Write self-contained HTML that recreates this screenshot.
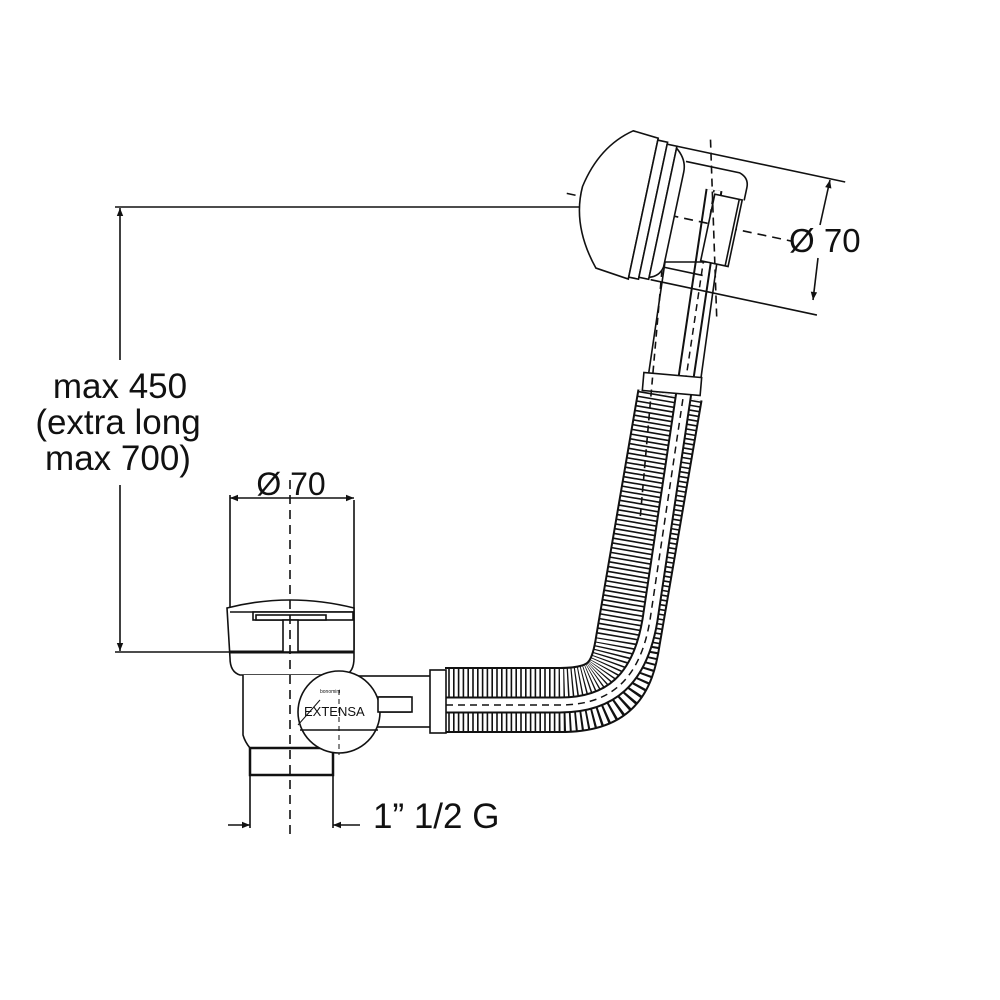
<!DOCTYPE html>
<html><head><meta charset="utf-8"><style>
html,body{margin:0;padding:0;background:#fff;}
svg{display:block;}
text{font-family:"Liberation Sans",sans-serif;fill:#111;}
</style></head><body>
<svg width="1000" height="1000" viewBox="0 0 1000 1000" xmlns="http://www.w3.org/2000/svg">
<defs>
<marker id="ar" viewBox="0 0 10 10" refX="10" refY="5" markerWidth="10" markerHeight="8" orient="auto-start-reverse" markerUnits="userSpaceOnUse"><path d="M0,1 L10,5 L0,9 Z" fill="#111"/></marker>
</defs>
<g fill="none" stroke="#111" stroke-width="1.6">
<line x1="115" y1="207" x2="640" y2="207"/>
<line x1="115" y1="652" x2="232" y2="652"/>
<line x1="120" y1="208" x2="120" y2="360" marker-start="url(#ar)"/>
<line x1="120" y1="485" x2="120" y2="651" marker-end="url(#ar)"/>

<path d="M445,700 L560,700 C610,700 622,680 628,640 L670,395" stroke="#111" stroke-width="66"/>
<path d="M445,700 L560,700 C610,700 622,680 628,640 L670,395" stroke="#fff" stroke-width="62" stroke-dasharray="3.2 1.6"/>
<path d="M380,705 L560,705 C610,705 640,680 650,620 L714,190" stroke="#111" stroke-width="17"/>
<path d="M380,705 L560,705 C610,705 640,680 650,620 L714,190" stroke="#fff" stroke-width="13"/>
<path d="M290,705 L560,705 C610,705 640,680 650,620 L714,190" stroke="#111" stroke-width="1.5" stroke-dasharray="7 5"/>

<path d="M665,262 L648,378 M717,262 L700,385" />
<path d="M665,262 L717,262" />
<rect x="643" y="375" width="58" height="18" fill="#fff" transform="rotate(5 672 384)"/>
<line x1="662" y1="270" x2="640" y2="520" stroke-dasharray="7 5"/>

<rect x="354" y="676" width="78" height="51" fill="#fff"/>
<rect x="430" y="670" width="16" height="63" fill="#fff"/>
<rect x="380" y="697" width="30" height="15" fill="#fff"/>

<path d="M230,500 L230,650 M354,500 L354,650"/>
<path d="M227,608 Q290,592 354,608 L354,658 Q354,672 345,675 L240,675 Q230,672 230,658 Z" fill="#fff"/>
<line x1="230" y1="652" x2="354" y2="652" stroke-width="3"/>
<line x1="230" y1="612" x2="354" y2="612"/>
<rect x="253" y="612" width="100" height="8" fill="#fff"/>
<rect x="256" y="615" width="70" height="5" fill="#fff"/>
<rect x="283" y="620" width="15" height="32" fill="#fff"/>
<path d="M243,675 L243,735 Q245,742 250,748 L335,748 L345,735 L345,675" fill="#fff"/>
<rect x="250" y="748" width="83" height="27" fill="#fff" stroke-width="2.5"/>
<path d="M250,775 L250,828 M333,775 L333,828"/>
<circle cx="339" cy="712" r="41" fill="#fff"/>
<path d="M300,730 L378,730"/>
<rect x="378" y="697" width="34" height="15" fill="#fff"/>
<path d="M298,725 L320,700" stroke-width="1"/>
<line x1="290" y1="480" x2="290" y2="835" stroke-dasharray="9 6"/>
<line x1="339" y1="690" x2="339" y2="755" stroke-dasharray="5 4" stroke-width="1"/>
<line x1="230" y1="495" x2="230" y2="500"/>
<line x1="230" y1="498" x2="354" y2="498" marker-start="url(#ar)" marker-end="url(#ar)"/>
<line x1="228" y1="825" x2="250" y2="825" marker-end="url(#ar)"/>
<line x1="360" y1="825" x2="333" y2="825" marker-end="url(#ar)"/>

<g transform="translate(645,210) rotate(12)">
<line x1="-80" y1="0" x2="150" y2="0" stroke-dasharray="9 6"/>
<path d="M-28,-75 L-2,-73 L-2,71 L-36,67 Q-68,30 -66,-10 Q-58,-53 -28,-75 Z" fill="#fff"/>
<rect x="-2" y="-71" width="10" height="140" fill="#fff"/>
<rect x="8" y="-69" width="10" height="136" fill="#fff"/>
<path d="M18,-67 Q30,-58 30,-45 L30,52 Q28,62 18,65 Z" fill="#fff"/>
<path d="M30,-56 L85,-56 Q95,-53 95,-43 L95,-30 M30,52 L70,52"/>
<rect x="65" y="-30" width="28" height="68" fill="#fff"/>
<line x1="90" y1="-30" x2="90" y2="38"/>
<line x1="70" y1="-85" x2="70" y2="95" stroke-dasharray="8 5" transform="rotate(-14 70 0)"/>
<line x1="18" y1="-69" x2="190" y2="-69"/>
<line x1="20" y1="67" x2="190" y2="67"/>
</g>
<line x1="830" y1="180" x2="820" y2="225" marker-start="url(#ar)"/>
<line x1="818" y1="258" x2="813" y2="300" marker-end="url(#ar)"/>
</g>

<g font-size="35" text-anchor="middle">
<text x="120" y="398">max 450</text>
<text x="118" y="434">(extra long</text>
<text x="118" y="470">max 700)</text>
</g>
<text x="291" y="495" font-size="32" text-anchor="middle">Ø 70</text>
<text x="373" y="828" font-size="35">1” 1/2 G</text>
<text x="789" y="252" font-size="33">Ø 70</text>
<text x="304" y="716" font-size="13">EXTENSA</text>
<text x="320" y="693" font-size="5">bonomini</text>
</svg>
</body></html>
